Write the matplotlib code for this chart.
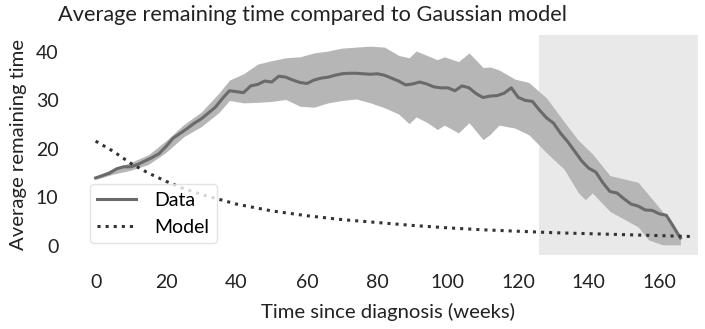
import numpy as np
import matplotlib
matplotlib.use("Agg")
from matplotlib import pyplot as plt

# observed average remaining time (weeks)
weeks = [0, 2, 4, 6, 8, 10, 12, 14, 16, 18, 20, 22, 24, 26, 28, 30, 32, 34, 36, 38,
         40, 42, 44, 46, 48, 50, 52, 54, 56, 58, 60, 62, 64, 66, 68, 70, 72, 74, 76, 78,
         80, 82, 84, 86, 88, 90, 92, 94, 96, 98, 100, 102, 104, 106, 108, 110, 112, 114,
         116, 118, 120, 122, 124, 126, 128, 130, 132, 134, 136, 138, 140, 142, 144, 146,
         148, 150, 152, 154, 156, 158, 160, 162, 164, 166]
remaining = [14.0, 14.5, 15.0, 15.9, 16.3, 16.3, 16.8, 17.5, 18.2, 19.0, 20.5, 22.2, 23.2,
             24.2, 25.3, 26.2, 27.4, 28.6, 30.4, 32.0, 31.8, 31.6, 33.0, 33.3, 34.0, 33.8,
             35.0, 34.8, 34.2, 33.7, 33.5, 34.2, 34.6, 34.8, 35.2, 35.5, 35.6, 35.6, 35.5,
             35.4, 35.5, 35.2, 34.6, 34.0, 33.2, 33.4, 33.8, 33.4, 32.8, 32.6, 32.6, 32.0,
             33.0, 32.6, 31.4, 30.6, 30.9, 31.0, 31.5, 32.6, 30.6, 30.0, 29.8, 28.0, 26.4,
             25.3, 23.2, 21.5, 19.5, 17.5, 16.0, 15.2, 13.0, 11.2, 10.9, 9.7, 8.6, 8.2, 7.4,
             7.3, 6.6, 6.3, 4.0, 1.6]

# spread around the average
band_weeks = [0, 5, 10, 15, 20, 25, 30, 35, 38, 42, 46, 50, 54, 58, 62, 66, 70, 74, 78,
              82, 86, 89, 91, 94, 97, 99, 103, 106, 110, 112, 114.5, 119, 123, 128, 133,
              137, 139, 141, 146, 150, 154, 157, 161, 166]
band_low = [13.7, 14.8, 15.6, 16.8, 19.3, 22.5, 24.6, 27.5, 30.0, 29.5, 29.6, 29.8, 30.2,
            28.8, 28.6, 29.5, 30.0, 30.3, 29.5, 28.5, 27.2, 25.2, 26.6, 25.5, 24.0, 24.9,
            23.3, 25.4, 21.9, 23.0, 24.9, 24.3, 22.9, 19.2, 15.8, 11.0, 9.5, 10.9, 7.1,
            5.5, 3.9, 1.2, 0.2, 0.2]
band_high = [14.3, 16.0, 17.2, 18.8, 21.7, 25.0, 27.6, 31.5, 34.2, 35.5, 37.5, 38.2, 38.8,
             39.0, 39.8, 40.2, 40.8, 41.0, 41.2, 41.0, 39.3, 38.8, 40.2, 39.3, 38.4, 39.0,
             38.0, 39.8, 36.8, 36.9, 36.3, 34.4, 33.7, 30.5, 25.6, 21.8, 20.4, 19.0, 14.5,
             13.8, 13.1, 10.5, 7.0, 1.9]

# gaussian model prediction
model_weeks = [0, 5, 10, 15, 20, 25, 30, 40, 50, 60, 70, 80, 90, 100, 110, 120, 130, 140,
               150, 160, 170]
model_remaining = [21.6, 19.5, 17.0, 15.0, 13.3, 11.8, 10.6, 8.6, 7.2, 6.2, 5.4, 4.8, 4.2,
                   3.7, 3.3, 3.0, 2.7, 2.5, 2.3, 2.1, 1.9]

plt.rcParams['font.family'] = ['Lato', 'DejaVu Sans']
plt.rcParams['font.size'] = 14

fig = plt.figure(figsize=(7.05, 3.29), dpi=100)
ax = fig.add_axes([78/705, 1-255/329, 620/705, 220/329])

ax.axvspan(126, 171, color='#e9e9e9', zorder=0, lw=0)
ax.fill_between(band_weeks, band_low, band_high, color='#b6b6b6', lw=0, zorder=1)
ax.plot(weeks, remaining, color='#6a6a6a', lw=2.2, label='Data', zorder=2)
ax.plot(model_weeks, model_remaining, color='#333333', lw=2.2, ls=':', label='Model', zorder=3)

ax.set_xlim(-5, 171)
ax.set_ylim(-1.9, 43.5)
ax.set_xticks([0, 20, 40, 60, 80, 100, 120, 140, 160])
ax.set_yticks([0, 10, 20, 30, 40])
ax.tick_params(length=0, pad=14, labelsize=14, colors='#222222')
for s in ax.spines.values():
    s.set_visible(False)

ax.set_xlabel('Time since diagnosis (weeks)', fontsize=14.6, labelpad=8, color='#222222')
ax.set_ylabel('Average remaining time', fontsize=14.6, labelpad=6, color='#222222')
fig.text(58/705, 1-21/329, 'Average remaining time compared to Gaussian model',
         fontsize=15.7, va='baseline', ha='left', color='#222222')

leg = ax.legend(loc='lower left', fontsize=14, frameon=True, handlelength=2.0,
                handletextpad=0.9, borderaxespad=0.6, labelspacing=0.5, borderpad=0.4)
leg.get_frame().set_edgecolor('#dddddd')

fig.savefig('out.png', dpi=100)
